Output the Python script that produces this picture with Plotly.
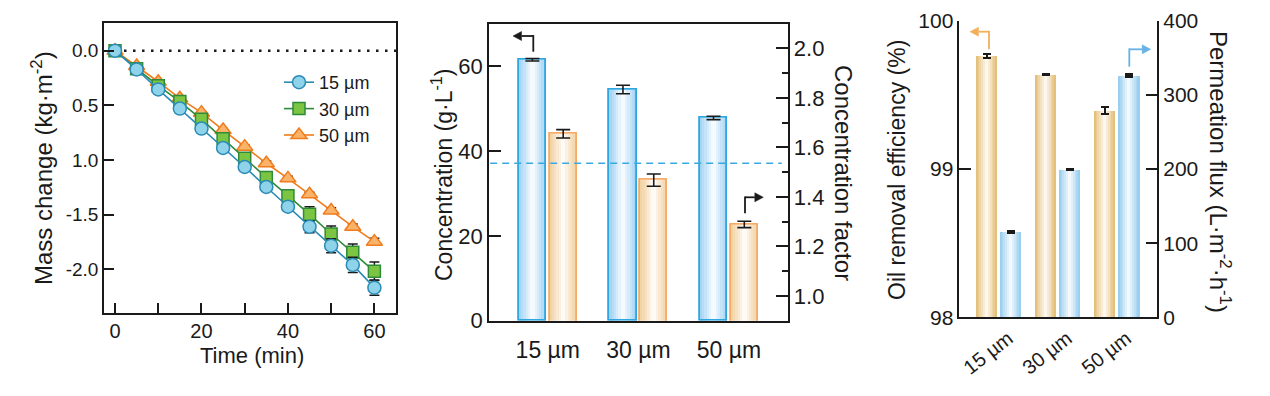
import plotly.graph_objects as go

W, H = 1270, 396
OFF = 8  # page body margin compensation (px)
FONT = "Arial, Liberation Sans, sans-serif"
INK = "#1a1a1a"

# ---------------- Panel 1 data: mass change vs time ----------------
time_min = [0, 5, 10, 15, 20, 25, 30, 35, 40, 45, 50, 55, 60]
mass_15 = [0, -0.171, -0.354, -0.530, -0.713, -0.890, -1.064, -1.247, -1.427, -1.610, -1.784, -1.960, -2.168]
err_15 = [0, 0.01, 0.01, 0.02, 0.02, 0.02, 0.03, 0.03, 0.04, 0.055, 0.064, 0.07, 0.07]
mass_30 = [0, -0.165, -0.320, -0.466, -0.628, -0.805, -0.985, -1.160, -1.326, -1.497, -1.677, -1.845, -2.018]
err_30 = [0, 0.01, 0.02, 0.02, 0.03, 0.03, 0.04, 0.045, 0.052, 0.07, 0.073, 0.076, 0.085]
mass_50 = [0, -0.140, -0.284, -0.436, -0.567, -0.726, -0.878, -1.030, -1.168, -1.314, -1.463, -1.610, -1.747]
err_50 = [0, 0.01, 0.01, 0.01, 0.01, 0.015, 0.015, 0.02, 0.02, 0.02, 0.025, 0.025, 0.03]
series_names = ["15 µm", "30 µm", "50 µm"]
y1_tickvals = [0, -0.5, -1.0, -1.5, -2.0]
y1_ticktext = ["0.0", "0.5", "1.0", "-1.5", "-2.0"]
x1_tickvals = [0, 20, 40, 60]
x1_minor_tickvals = [10, 30, 50]

# ---------------- Panel 2 data: concentration ----------------
categories = ["15 µm", "30 µm", "50 µm"]
concentration = [61.5, 54.5, 47.8]
concentration_err = [0.3, 1.0, 0.4]
conc_factor = [1.655, 1.468, 1.289]
conc_factor_err = [0.017, 0.025, 0.013]
feed_concentration = 37.1

# ---------------- Panel 3 data: removal efficiency & flux ----------------
removal_eff = [99.762, 99.638, 99.395]
removal_eff_err = [0.015, 0.004, 0.022]
perm_flux = [115.5, 199.6, 326.3]
perm_flux_err = [1.0, 0.8, 1.5]


def hex_to_rgb(h):
    h = h.lstrip("#")
    return tuple(int(h[i:i + 2], 16) for i in (0, 2, 4))


def mix(c1, c2, t):
    a, b = hex_to_rgb(c1), hex_to_rgb(c2)
    return "rgb(%d,%d,%d)" % tuple(round(a[i] + (b[i] - a[i]) * t) for i in range(3))


def gradient_bars(fig, x, y, xa, ya, offset, width, edge, center="#ffffff", n=12, power=0.9):
    step = width / n
    for i in range(n):
        t = abs((i + 0.5) / n * 2 - 1) ** power
        fig.add_trace(go.Bar(
            x=x, y=y, xaxis=xa, yaxis=ya, offset=offset + i * step, width=step * 1.02,
            marker=dict(color=mix(center, edge, t), line=dict(width=0)),
            showlegend=False, hoverinfo="skip"))


def outline_bars(fig, x, y, err, xa, ya, offset, width, line_color, line_w, err_w, err_th):
    fig.add_trace(go.Bar(
        x=x, y=y, xaxis=xa, yaxis=ya, offset=offset, width=width,
        marker=dict(color="rgba(0,0,0,0)", line=dict(color=line_color, width=line_w)),
        error_y=dict(type="data", array=err, color=INK, thickness=err_th, width=err_w),
        showlegend=False, hoverinfo="skip"))


fig = go.Figure()

# ---- Panel 1 traces (drawn 50, 30, 15 so circles sit on top)
styles = {
    "15 µm": dict(symbol="circle", size=13, fill="#8fd3ea", edge="#2a8cb4"),
    "30 µm": dict(symbol="square", size=12, fill="#7cc543", edge="#2f8a3a"),
    "50 µm": dict(symbol="triangle-up", size=14, fill="#fbb36a", edge="#f07c1c"),
}
data1 = {"15 µm": (mass_15, err_15), "30 µm": (mass_30, err_30), "50 µm": (mass_50, err_50)}
for name in reversed(series_names):
    st = styles[name]
    yy, ee = data1[name]
    fig.add_trace(go.Scatter(
        x=time_min, y=yy, name=name, mode="lines+markers", xaxis="x", yaxis="y",
        line=dict(color=st["edge"], width=1.6),
        marker=dict(symbol=st["symbol"], size=st["size"], color=st["fill"],
                    line=dict(color=st["edge"], width=1.5)),
        error_y=dict(type="data", array=ee, color=INK, thickness=1.5, width=5),
        hoverinfo="skip"))

# ---- Panel 2 bars
BW2 = 0.30
gradient_bars(fig, categories, concentration, "x2", "y2", -0.32, BW2, "#9fd2f3")
gradient_bars(fig, categories, conc_factor, "x2", "y3", 0.02, BW2, "#f1cf9c")
outline_bars(fig, categories, concentration, concentration_err, "x2", "y2", -0.32, BW2,
             "#2ea6e1", 1.8, 7, 1.6)
outline_bars(fig, categories, conc_factor, conc_factor_err, "x2", "y3", 0.02, BW2,
             "#f6aa66", 1.8, 7, 1.6)

# ---- Panel 3 bars
BW3 = 0.355
gradient_bars(fig, categories, removal_eff, "x3", "y4", -0.383, BW3, "#e2bb70")
gradient_bars(fig, categories, perm_flux, "x3", "y5", 0.024, BW3, "#93cbee")
outline_bars(fig, categories, removal_eff, removal_eff_err, "x3", "y4", -0.383, BW3,
             "rgba(0,0,0,0)", 0, 4, 2.2)
outline_bars(fig, categories, perm_flux, perm_flux_err, "x3", "y5", 0.024, BW3,
             "rgba(0,0,0,0)", 0, 4, 2.2)


def px_x(p):
    return (p - OFF) / W


def px_y(p):
    return 1 - (p - OFF) / H


axis_common = dict(showgrid=False, zeroline=False, showline=True, linecolor=INK, linewidth=1.5,
                   tickcolor=INK, tickwidth=1.5, color=INK, automargin=False)

fig.update_layout(
    template="none",
    width=W, height=H, margin=dict(l=0, r=0, t=0, b=0, autoexpand=False),
    paper_bgcolor="white", plot_bgcolor="white",
    font=dict(family=FONT, color=INK, size=18),
    barmode="overlay", bargap=0,
    legend=dict(x=px_x(279), y=px_y(64), xanchor="left", yanchor="top",
                traceorder="reversed", bgcolor="rgba(0,0,0,0)", font=dict(size=18),
                itemwidth=30, tracegroupgap=0, borderwidth=0),
    xaxis=dict(domain=[px_x(104), px_x(396)], range=[-2.55, 65], anchor="y",
               tickvals=x1_tickvals, ticks="inside", ticklen=10,
               minor=dict(tickvals=x1_minor_tickvals, ticks="inside", ticklen=10,
                          tickcolor=INK, tickwidth=1.5),
               mirror=True, tickfont=dict(size=20), **axis_common),
    yaxis=dict(domain=[px_y(312.7), px_y(22.7)], range=[-2.397, 0.256], anchor="x",
               tickvals=y1_tickvals, ticktext=y1_ticktext, ticks="inside", ticklen=10,
               mirror=True, tickfont=dict(size=19), **axis_common),
    xaxis2=dict(domain=[px_x(489), px_x(787.7)], range=[-0.649, 2.649], anchor="y2",
                type="category", ticks="", mirror=True, ticklabelstandoff=8,
                tickfont=dict(size=23), **axis_common),
    yaxis2=dict(domain=[px_y(320.7), px_y(23.7)], range=[0, 70], anchor="x2",
                tickvals=[0, 20, 40, 60], ticks="inside", ticklen=12,
                tickfont=dict(size=22), **axis_common),
    yaxis3=dict(overlaying="y2", side="right", anchor="x2", range=[0.9, 2.1],
                tickvals=[1.0, 1.2, 1.4, 1.6, 1.8, 2.0], tickformat=".1f",
                ticks="inside", ticklen=12,
                minor=dict(tickvals=[1.1, 1.3, 1.5, 1.7, 1.9], ticks="inside", ticklen=6,
                           tickcolor=INK, tickwidth=1.5),
                tickfont=dict(size=22), **axis_common),
    xaxis3=dict(domain=[px_x(959.3), px_x(1157.3)], range=[-0.675, 2.675], anchor="y4",
                type="category", ticks="", tickangle=-38, ticklabelshift=9,
                tickfont=dict(size=20), **axis_common),
    yaxis4=dict(domain=[px_y(317.3), px_y(20.7)], range=[98, 100], anchor="x3",
                tickvals=[98, 99, 100], ticks="inside", ticklen=12,
                tickfont=dict(size=21), **axis_common),
    yaxis5=dict(overlaying="y4", side="right", anchor="x3", range=[0, 400],
                tickvals=[0, 100, 200, 300, 400], ticks="inside", ticklen=12,
                tickfont=dict(size=21), **axis_common),
)

shapes = []
annotations = []

# Panel 1 zero reference (dotted)
shapes.append(dict(type="line", xref="x", yref="y", x0=0, x1=65, y0=0, y1=0,
                   line=dict(color=INK, width=2.5, dash="2.5px,6.5px"), layer="below"))
# Panel 2 feed concentration (dashed)
shapes.append(dict(type="line", xref="x2 domain", yref="y2", x0=0.004, x1=0.98,
                   y0=feed_concentration, y1=feed_concentration,
                   line=dict(color="#3aa9e0", width=1.5, dash="7px,5px"), layer="above"))


def bent_arrow(stem_x, y_low, y_high, tip_x, color, width=1.8, head=8.5, half=4.5):
    """Elbow arrow drawn in pixel positions of the figure (converted to paper)."""
    d = 1 if tip_x > stem_x else -1
    shapes.append(dict(type="line", xref="paper", yref="paper",
                       x0=px_x(stem_x), x1=px_x(stem_x), y0=px_y(y_low), y1=px_y(y_high - width / 2),
                       line=dict(color=color, width=width)))
    base = tip_x - d * head
    shapes.append(dict(type="line", xref="paper", yref="paper",
                       x0=px_x(stem_x), x1=px_x(base), y0=px_y(y_high), y1=px_y(y_high),
                       line=dict(color=color, width=width)))
    path = "M %f,%f L %f,%f L %f,%f Z" % (
        px_x(tip_x), px_y(y_high), px_x(base), px_y(y_high - half), px_x(base), px_y(y_high + half))
    shapes.append(dict(type="path", xref="paper", yref="paper", path=path,
                       fillcolor=color, line=dict(color=color, width=0.5)))


bent_arrow(533.3, 51.7, 36.0, 513.0, INK)
bent_arrow(745.0, 213.3, 197.3, 763.3, INK)
bent_arrow(989.0, 49.3, 31.7, 970.0, "#f2b05c")
bent_arrow(1129.3, 66.7, 49.3, 1150.7, "#66b2e6")


def title(text, xp, yp, angle, size):
    annotations.append(dict(xref="paper", yref="paper", x=px_x(xp), y=px_y(yp), text=text,
                            showarrow=False, textangle=angle, xanchor="center", yanchor="middle",
                            font=dict(size=size, color=INK, family=FONT)))


title("Mass change (kg·m<sup>-2</sup>)", 42, 168, -90, 24)
title("Time (min)", 252, 355, 0, 22)
title("Concentration (g·L<sup>-1</sup>)", 442, 175, -90, 23)
title("Concentration factor", 844, 173, 90, 24)
title("Oil removal efficiency (%)", 897, 170, -90, 23)
title("Permeation flux (L·m<sup>-2</sup>·h<sup>-1</sup>)", 1220, 172, 90, 24)

fig.update_layout(shapes=shapes, annotations=annotations)
fig.write_html("out.html")
